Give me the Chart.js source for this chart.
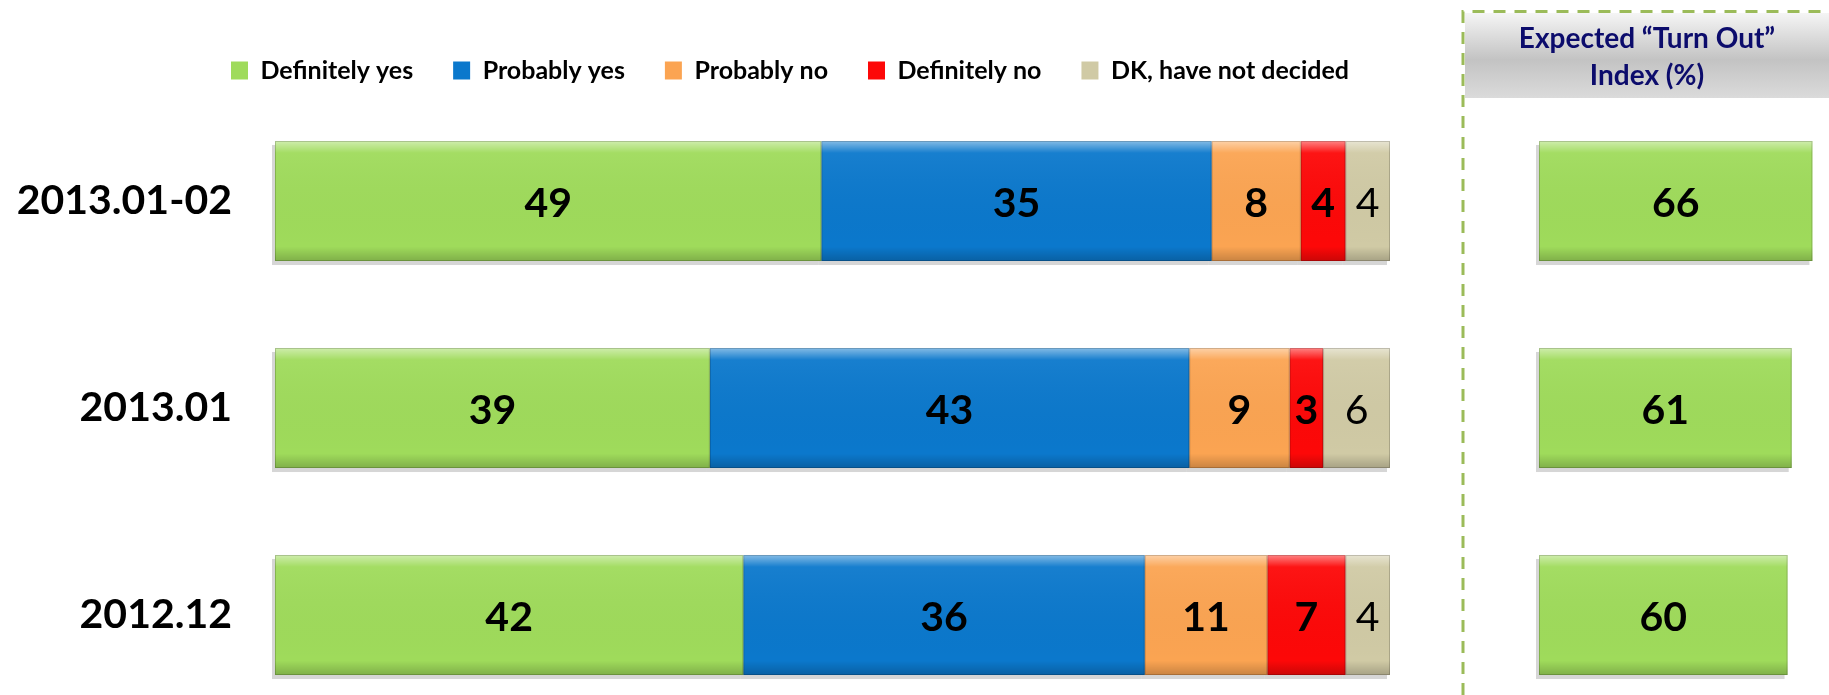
<!DOCTYPE html>
<html>
<head>
<meta charset="utf-8">
<script src="https://cdn.jsdelivr.net/npm/chart.js@4.4.1/dist/chart.umd.min.js"></script>
<style>
  body { margin: 0; background: #fff; }
  #wrap { position: relative; width: 1829px; height: 695px; }
  canvas { position: absolute; top: 0; }
</style>
</head>
<body>
<div id="wrap">
  <canvas id="vote_stack_chart" width="1580" height="695" style="left:0"></canvas>
  <canvas id="turnout_index_chart" width="389" height="695" style="left:1440px"></canvas>
</div>
<script>
// data
const categories = ['2013.01-02', '2013.01', '2012.12'];
const seriesNames = ['Definitely yes', 'Probably yes', 'Probably no', 'Definitely no', 'DK, have not decided'];
const definitelyYes = [49, 39, 42];
const probablyYes = [35, 43, 36];
const probablyNo = [8, 9, 11];
const definitelyNo = [4, 3, 7];
const dkUndecided = [4, 6, 4];
const turnOutIndex = [66, 61, 60];
const indexTitle = ['Expected \u201cTurn Out\u201d', 'Index (%)'];

const seriesColors = ['#9fdb5b', '#0b78cc', '#fba452', '#fd0808', '#d0caa5'];

// soft shadow under each bar
const barShadow = {
  id: 'barShadow',
  beforeDatasetsDraw(chart) {
    const ctx = chart.ctx;
    ctx.save();
    ctx.fillStyle = 'rgba(0,0,0,0.16)';
    chart.data.datasets.forEach((ds, i) => {
      chart.getDatasetMeta(i).data.forEach(bar => {
        const p = bar.getProps(['x', 'y', 'base', 'height'], true);
        const left = Math.min(p.x, p.base);
        const w = Math.abs(p.x - p.base);
        ctx.fillRect(left - 3, p.y - p.height / 2 + 4, w, p.height);
      });
    });
    ctx.restore();
  }
};

// bevel look of the bars
const bevel = {
  id: 'bevel',
  afterDatasetsDraw(chart) {
    const ctx = chart.ctx;
    ctx.save();
    chart.data.datasets.forEach((ds, i) => {
      chart.getDatasetMeta(i).data.forEach(bar => {
        const p = bar.getProps(['x', 'y', 'base', 'height'], true);
        const left = Math.min(p.x, p.base);
        const w = Math.abs(p.x - p.base);
        const top = p.y - p.height / 2;
        const g = ctx.createLinearGradient(0, top, 0, top + p.height);
        g.addColorStop(0, 'rgba(255,255,255,0.5)');
        g.addColorStop(0.1, 'rgba(255,255,255,0.05)');
        g.addColorStop(0.88, 'rgba(0,0,0,0)');
        g.addColorStop(1, 'rgba(0,0,0,0.2)');
        ctx.fillStyle = g;
        ctx.fillRect(left, top, w, p.height);
        ctx.strokeStyle = 'rgba(0,0,0,0.18)';
        ctx.lineWidth = 1;
        ctx.strokeRect(left + 0.5, top + 0.5, w - 1, p.height - 1);
      });
    });
    ctx.restore();
  }
};

// numbers inside the bars
const valueLabels = {
  id: 'valueLabels',
  afterDatasetsDraw(chart) {
    const ctx = chart.ctx;
    ctx.save();
    ctx.textAlign = 'center';
    ctx.textBaseline = 'middle';
    ctx.fillStyle = '#000';
    chart.data.datasets.forEach((ds, i) => {
      const meta = chart.getDatasetMeta(i);
      ctx.font = (ds.labelWeight || 'bold') + ' 41px Lato';
      meta.data.forEach((bar, j) => {
        const p = bar.getProps(['x', 'y', 'base'], true);
        ctx.fillText(ds.data[j], (p.x + p.base) / 2, p.y + 3);
      });
    });
    ctx.restore();
  }
};

// gray header box + dashed green frame
const indexHeader = {
  id: 'indexHeader',
  beforeDraw(chart) {
    const ctx = chart.ctx;
    const w = chart.width;
    ctx.save();
    const g = ctx.createLinearGradient(0, 13, 0, 98);
    g.addColorStop(0, '#f5f5f5');
    g.addColorStop(0.55, '#c3c3c3');
    g.addColorStop(1, '#dbdbdb');
    ctx.fillStyle = g;
    ctx.fillRect(25, 13, w - 25, 85);
    ctx.strokeStyle = '#9bbb59';
    ctx.lineWidth = 3;
    ctx.setLineDash([12, 9]);
    ctx.beginPath();
    ctx.moveTo(23, chart.height);
    ctx.lineTo(23, 11.5);
    ctx.lineTo(w, 11.5);
    ctx.stroke();
    ctx.setLineDash([]);
    ctx.fillStyle = '#0c0c6c';
    ctx.font = 'bold 28px Lato';
    ctx.textAlign = 'center';
    ctx.textBaseline = 'middle';
    const cx = 25 + (w - 25) / 2;
    ctx.fillText(indexTitle[0], cx, 39);
    ctx.fillText(indexTitle[1], cx, 76);
    ctx.restore();
  }
};

function vote_stack_chart() {
  const seriesData = [definitelyYes, probablyYes, probablyNo, definitelyNo, dkUndecided];
  const data = {
    labels: categories,
    datasets: seriesNames.map((name, i) => ({
      label: name,
      data: seriesData[i],
      backgroundColor: seriesColors[i],
      borderWidth: 0,
      labelWeight: i === 4 ? 'normal' : 'bold',
      barPercentage: 0.58,
      categoryPercentage: 1,
      clip: false
    }))
  };

  const options = {
    indexAxis: 'y',
    responsive: false,
    animation: false,
    layout: { padding: { top: 18, bottom: 80, left: 0, right: 0 } },
    plugins: {
      tooltip: { enabled: false },
      legend: {
        position: 'top',
        labels: {
          font: { family: 'Lato', weight: 'bold', size: 25 },
          color: '#000',
          boxWidth: 17,
          boxHeight: 18,
          padding: 40
        }
      }
    },
    scales: {
      x: {
        position: 'top',
        stacked: true,
        min: 0,
        max: 100,
        ticks: { display: false },
        grid: { display: false, drawTicks: false },
        border: { display: false },
        afterFit: s => { s.height = 108; }
      },
      y: {
        stacked: true,
        offset: false,
        ticks: {
          font: { family: 'Lato', weight: 'bold', size: 41 },
          color: '#000',
          padding: 43
        },
        grid: { display: false, drawTicks: false },
        border: { display: false },
        afterFit: s => { s.width = 275; }
      },
      yRight: {
        axis: 'y',
        type: 'linear',
        position: 'right',
        ticks: { display: false },
        grid: { display: false, drawTicks: false },
        border: { display: false },
        afterFit: s => { s.width = 190; }
      }
    }
  };

  const ctx = document.getElementById('vote_stack_chart').getContext('2d');
  new Chart(ctx, {
    type: 'bar',
    data: data,
    options: options,
    plugins: [barShadow, bevel, valueLabels]
  });
}

function turnout_index_chart() {
  const data = {
    labels: categories,
    datasets: [{
      label: 'Expected Turn Out Index',
      data: turnOutIndex,
      backgroundColor: seriesColors[0],
      borderWidth: 0,
      barPercentage: 0.58,
      categoryPercentage: 1,
      clip: false
    }]
  };

  const options = {
    indexAxis: 'y',
    responsive: false,
    animation: false,
    layout: { padding: { top: 201, bottom: 80, left: 99, right: 0 } },
    plugins: { legend: { display: false }, tooltip: { enabled: false } },
    scales: {
      x: { display: false, min: 0, max: 70 },
      y: { display: false, offset: false }
    }
  };

  const ctx = document.getElementById('turnout_index_chart').getContext('2d');
  new Chart(ctx, {
    type: 'bar',
    data: data,
    options: options,
    plugins: [indexHeader, barShadow, bevel, valueLabels]
  });
}

document.addEventListener('DOMContentLoaded', function () {
  vote_stack_chart();
  turnout_index_chart();
});
</script>
</body>
</html>
